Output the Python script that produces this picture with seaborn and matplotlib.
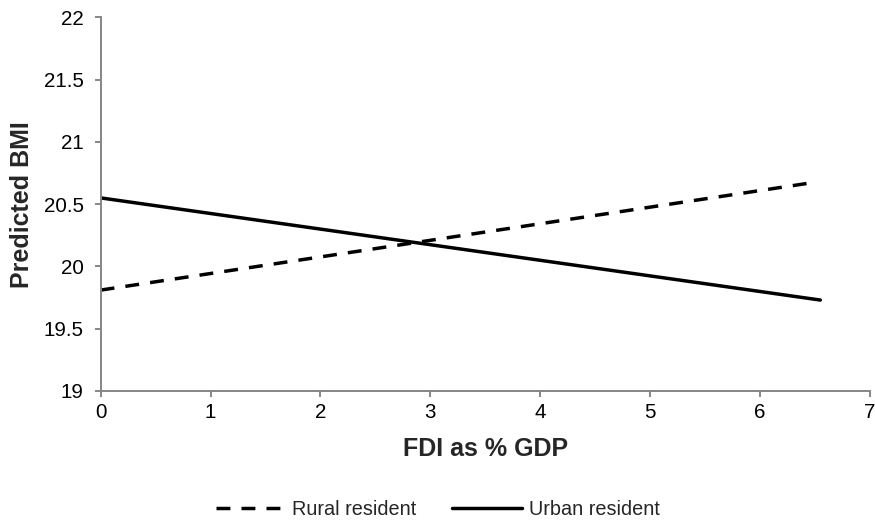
import pandas as pd
import matplotlib
matplotlib.use('Agg')
import matplotlib.pyplot as plt
import seaborn as sns

# values
fdi_rural = [0, 6.46]
bmi_rural = [19.81, 20.67]
fdi_urban = [0, 6.55]
bmi_urban = [20.55, 19.73]
groups = ['Rural resident', 'Urban resident']
y_ticks = [19, 19.5, 20, 20.5, 21, 21.5, 22]
y_tick_labels = ['19', '19.5', '20', '20.5', '21', '21.5', '22']

df = pd.concat([
    pd.DataFrame({'fdi': fdi_rural, 'bmi': bmi_rural, 'group': groups[0]}),
    pd.DataFrame({'fdi': fdi_urban, 'bmi': bmi_urban, 'group': groups[1]}),
])

sns.set_style('white')
plt.rcParams['font.family'] = ['Liberation Sans', 'DejaVu Sans']

fig = plt.figure(figsize=(8.75, 5.23), dpi=100)
ax = fig.add_axes([0.115, 0.2524, 0.879, 0.7146])

lw = 2.5
dash = (4.0, 3.2)
sns.lineplot(data=df, x='fdi', y='bmi', style='group', style_order=groups,
             dashes={groups[0]: dash, groups[1]: ''},
             color='black', linewidth=lw, ax=ax, legend=False)

ax.set_xlim(0, 7)
ax.set_ylim(19, 22)
ax.set_xticks(range(0, 8))
ax.set_yticks(y_ticks)
ax.set_yticklabels(y_tick_labels)

gray = '#868686'
for side in ['top', 'right']:
    ax.spines[side].set_visible(False)
for side in ['left', 'bottom']:
    ax.spines[side].set_color(gray)
    ax.spines[side].set_linewidth(1.4)
ax.tick_params(axis='both', direction='out', length=4.2, width=1.4, color=gray,
               labelsize=14.8, labelcolor='black')
ax.tick_params(axis='y', left=True, pad=8)
ax.tick_params(axis='x', bottom=True, pad=4.5)

ax.set_xlabel('FDI as % GDP', fontsize=18, fontweight='bold', labelpad=11)
ax.set_ylabel('Predicted BMI', fontsize=18, fontweight='bold', labelpad=7)

handles = [plt.Line2D([], [], color='black', linewidth=lw, dashes=dash),
           plt.Line2D([], [], color='black', linewidth=lw)]
fig.legend(handles, groups, loc='lower center', bbox_to_anchor=(0.5, -0.026),
           ncol=2, frameon=False, fontsize=14.3, handlelength=3.5,
           columnspacing=1.8, handletextpad=0.35)

fig.savefig('out.png', dpi=100)
